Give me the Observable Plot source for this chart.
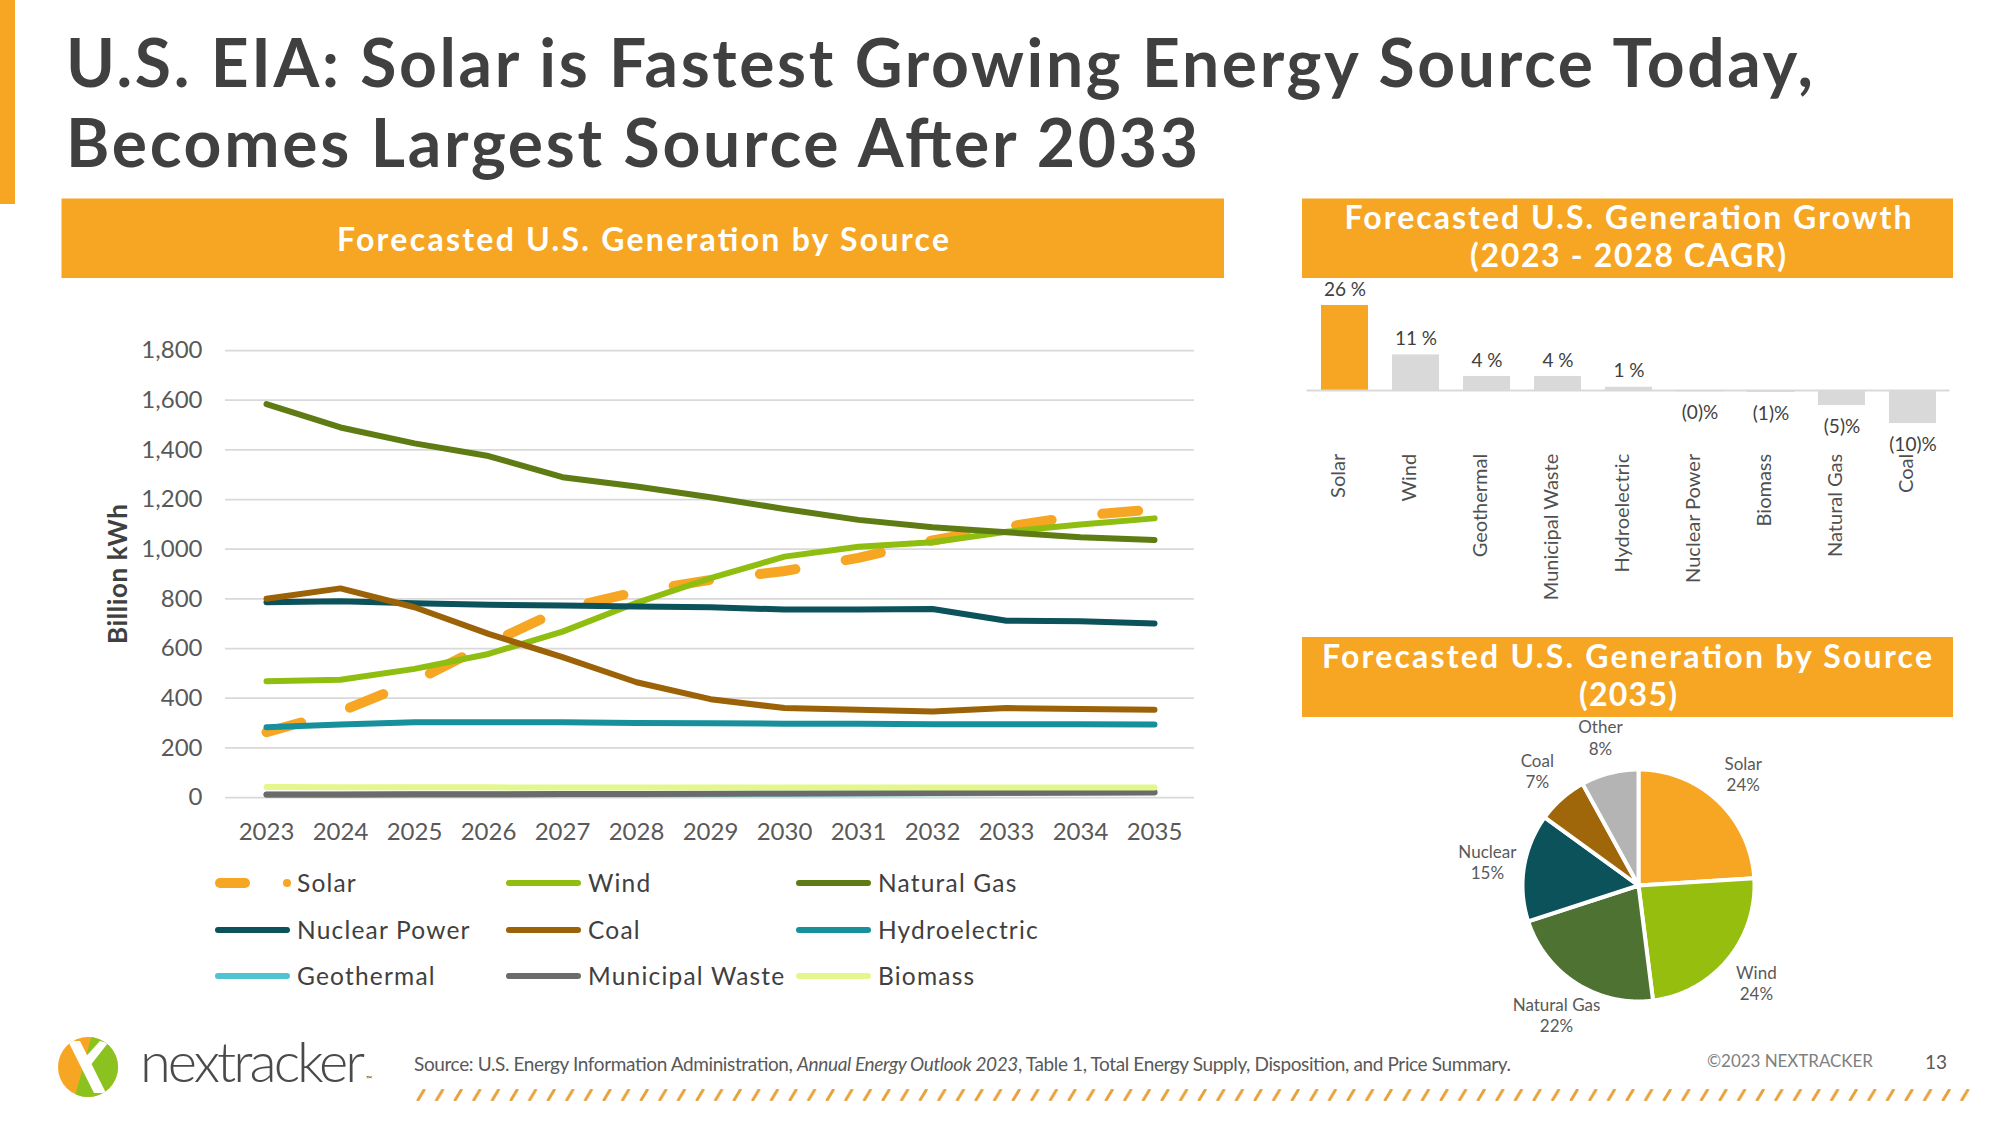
<!DOCTYPE html>
<html>
<head>
<meta charset="utf-8">
<script src="https://cdn.jsdelivr.net/npm/d3@7"></script>
<script src="https://cdn.jsdelivr.net/npm/@observablehq/plot@0.6"></script>
<style>
html, body { margin: 0; padding: 0; background: #fff; }
body { width: 2000px; height: 1125px; position: relative; overflow: hidden; font-family: Lato, "Open Sans", sans-serif; }
.abs { position: absolute; }
</style>
</head>
<body>
<svg id="bg" class="abs" style="left:0;top:0" width="2000" height="1125"></svg>
<div id="line" class="abs" style="left:60px;top:320px;width:1160px;height:540px"></div>
<div id="bars" class="abs" style="left:1300px;top:280px;width:670px;height:260px"></div>
<div id="pie" class="abs" style="left:1400px;top:700px;width:500px;height:370px"></div>
<script>
// ---------------- DATA ----------------
const years = [2023, 2024, 2025, 2026, 2027, 2028, 2029, 2030, 2031, 2032, 2033, 2034, 2035];
const solar          = [263, 346, 468, 619, 758, 828, 876, 912, 965, 1035, 1090, 1135, 1160];
const wind           = [468, 474, 518, 578, 668, 784, 883, 970, 1010, 1028, 1070, 1099, 1124];
const naturalGas     = [1584, 1490, 1426, 1375, 1290, 1252, 1209, 1162, 1118, 1088, 1068, 1048, 1037];
const nuclearPower   = [786, 790, 782, 776, 773, 769, 766, 757, 757, 759, 712, 710, 701];
const coal           = [800, 842, 766, 659, 565, 464, 396, 360, 353, 346, 360, 356, 353];
const hydroelectric  = [283, 294, 303, 303, 303, 300, 299, 297, 297, 295, 295, 295, 294];
const geothermal     = [11, 11, 12, 12, 13, 13, 14, 15, 16, 17, 18, 19, 20];
const municipalWaste = [12, 12, 13, 13, 14, 14, 15, 16, 17, 18, 19, 20, 21];
const biomass        = [42, 41, 41, 41, 40, 40, 40, 40, 40, 40, 40, 40, 40];
const yTicks = [0, 200, 400, 600, 800, 1000, 1200, 1400, 1600, 1800];

const seriesNames = ["Solar", "Wind", "Natural Gas", "Nuclear Power", "Coal", "Hydroelectric", "Geothermal", "Municipal Waste", "Biomass"];
const seriesValues = [solar, wind, naturalGas, nuclearPower, coal, hydroelectric, geothermal, municipalWaste, biomass];
const seriesColors = ["#F6A623", "#8FBE10", "#5F7B13", "#0C525B", "#9C6208", "#17909B", "#4FC3CF", "#6B6B6B", "#E3F78C"];

const cagrNames  = ["Solar", "Wind", "Geothermal", "Municipal Waste", "Hydroelectric", "Nuclear Power", "Biomass", "Natural Gas", "Coal"];
const cagrValues = [26, 10.9, 4.3, 4.3, 1.0, -0.4, -0.6, -4.6, -10.1];

const pieNames  = ["Solar", "Wind", "Natural Gas", "Nuclear", "Coal", "Other"];
const pieShares = [24, 24, 22, 15, 7, 8];
const pieColors = ["#F6A623", "#96BE0E", "#4E7232", "#0B525B", "#A0660A", "#B4B4B4"];

const orange = "#F6A623";
const textDark = "#404040";
const textGray = "#595959";

// ---------------- LINE CHART ----------------
const rows = seriesNames.flatMap((name, i) => years.map((year, j) => ({series: name, year, value: seriesValues[i][j]})));

const lineChart = Plot.plot({
  width: 1160, height: 540,
  marginLeft: 165, marginRight: 26, marginTop: 30, marginBottom: 63,
  style: {background: "none", fontFamily: "Lato, sans-serif", fontSize: "24px", color: textGray, overflow: "visible"},
  x: {type: "point", domain: years, padding: 0.5, label: null, tickSize: 0, tickPadding: 25, tickFormat: d => String(d)},
  y: {domain: [0, 1800], ticks: yTicks, tickFormat: d3.format(","), label: null, tickSize: 0, tickPadding: 23},
  color: {domain: seriesNames, range: seriesColors},
  marks: [
    Plot.ruleY(yTicks, {stroke: "#d9d9d9", strokeWidth: 1.75}),
    ...seriesNames.map(name => Plot.line(rows.filter(r => r.series === name), Object.assign(
      {x: "year", y: "value", stroke: "series", strokeLinecap: "round", strokeLinejoin: "round"},
      name === "Solar" ? {strokeWidth: 10, strokeDasharray: "36,51"} : {strokeWidth: 6}
    )))
  ]
});
document.getElementById("line").appendChild(lineChart);

// ---------------- BAR CHART ----------------
const cagr = cagrNames.map((name, i) => ({name, value: cagrValues[i]}));
const fmtPct = v => v >= 0 ? `${Math.round(v)} %` : `(${Math.round(-v)})%`;

const barChart = Plot.plot({
  width: 670, height: 260,
  marginLeft: 6.5, marginRight: 20.5, marginTop: 11.9, marginBottom: 104.2,
  style: {background: "none", fontFamily: "Lato, sans-serif", color: textDark, overflow: "visible"},
  x: {type: "band", domain: cagrNames, paddingInner: 0.342, paddingOuter: 0.174, axis: null},
  y: {domain: [-14, 30], axis: null},
  marks: [
    Plot.barY(cagr, {x: "name", y: "value", fill: d => d.name === "Solar" ? orange : "#D9D9D9"}),
    Plot.ruleY([0], {stroke: "#d9d9d9", strokeWidth: 2}),
    Plot.text(cagr.filter(d => d.value >= 0), {x: "name", y: "value", text: d => fmtPct(d.value), dy: -16, fontSize: 19, fill: textDark}),
    Plot.text(cagr.filter(d => d.value < 0), {x: "name", y: "value", text: d => fmtPct(d.value), dy: 21, fontSize: 19, fill: textDark}),
    Plot.text(cagr, {x: "name", text: "name", frameAnchor: "bottom", rotate: -90, textAnchor: "end", dy: 17.5, fontSize: 20, fill: "#505050"})
  ]
});
document.getElementById("bars").appendChild(barChart);

// ---------------- PIE CHART ----------------
const R = 116;
const arcs = d3.pie().sort(null).value(d => d)(pieShares);
const piePts = [];
arcs.forEach((a, i) => {
  const name = pieNames[i];
  piePts.push({name, x: 0, y: 0});
  const n = Math.max(8, Math.ceil((a.endAngle - a.startAngle) / 0.01));
  for (let k = 0; k <= n; k++) {
    const t = a.startAngle + (a.endAngle - a.startAngle) * k / n;
    piePts.push({name, x: R * Math.sin(t), y: R * Math.cos(t)});
  }
  piePts.push({name, x: 0, y: 0});
});
const pieLabels = arcs.map((a, i) => {
  const m = (a.startAngle + a.endAngle) / 2;
  return {name: pieNames[i], share: pieShares[i], m};
});
const LR = 153;
const pieChart = Plot.plot({
  width: 500, height: 370, margin: 0,
  style: {background: "none", fontFamily: "Lato, sans-serif", overflow: "visible"},
  x: {domain: [-238, 262], axis: null},
  y: {domain: [-185, 185], axis: null},
  color: {domain: pieNames, range: pieColors},
  marks: [
    Plot.line(piePts, {x: "x", y: "y", z: "name", fill: "name", stroke: "white", strokeWidth: 4, strokeLinejoin: "round", curve: "linear"}),
    Plot.text(pieLabels, {x: d => LR * Math.sin(d.m), y: d => LR * Math.cos(d.m), text: d => `${d.name}\n${d.share}%`, fontSize: 17, lineHeight: 1.25, fill: textGray})
  ]
});
document.getElementById("pie").appendChild(pieChart);

// ---------------- STATIC PAGE ELEMENTS ----------------
const bg = d3.select("#bg");
const F = "Lato, 'Open Sans', sans-serif";
function txt(x, y, s, o = {}) {
  const t = bg.append("text").attr("x", x).attr("y", y).text(s)
    .attr("font-family", F).attr("font-size", o.size || 20).attr("fill", o.fill || textDark)
    .attr("font-weight", o.weight || 400).attr("text-anchor", o.anchor || "start");
  if (o.len) t.attr("textLength", o.len).attr("lengthAdjust", o.adjust || "spacing");
  if (o.ls) t.attr("letter-spacing", o.ls);
  if (o.transform) t.attr("transform", o.transform);
  return t;
}

// left accent bar
bg.append("rect").attr("x", 0).attr("y", 0).attr("width", 15).attr("height", 204).attr("fill", orange);

// Title
txt(66, 87, "U.S. EIA: Solar is Fastest Growing Energy Source Today,", {size: 66, weight: 700, len: 1747});
txt(66, 167, "Becomes Largest Source After 2033", {size: 66, weight: 700, len: 1132});

// Header boxes
bg.append("rect").attr("x", 61.5).attr("y", 198.5).attr("width", 1162.5).attr("height", 79.5).attr("fill", orange);
bg.append("rect").attr("x", 1302).attr("y", 198.5).attr("width", 651).attr("height", 79.5).attr("fill", orange);
bg.append("rect").attr("x", 1302).attr("y", 637).attr("width", 651).attr("height", 80).attr("fill", orange);
txt(643, 251, "Forecasted U.S. Generation by Source", {size: 32, weight: 700, fill: "#fff", anchor: "middle", len: 612});
txt(1628, 229, "Forecasted U.S. Generation Growth", {size: 32, weight: 700, fill: "#fff", anchor: "middle", len: 567});
txt(1628, 267, "(2023 - 2028 CAGR)", {size: 32, weight: 700, fill: "#fff", anchor: "middle", len: 316});
txt(1627, 668, "Forecasted U.S. Generation by Source", {size: 32, weight: 700, fill: "#fff", anchor: "middle", len: 610});
txt(1628, 706, "(2035)", {size: 32, weight: 700, fill: "#fff", anchor: "middle", len: 98});

// y-axis title
txt(127, 574, "Billion kWh", {size: 26, weight: 700, fill: textDark, anchor: "middle", len: 140, transform: "rotate(-90 127 574)"});

// Legend
const legCols = [215, 506, 796];
const legRows = [883, 930, 976];
seriesNames.forEach((name, i) => {
  const cx = legCols[i % 3], cy = legRows[Math.floor(i / 3)];
  if (name === "Solar") {
    bg.append("line").attr("x1", cx + 5).attr("x2", cx + 30).attr("y1", cy).attr("y2", cy)
      .attr("stroke", seriesColors[i]).attr("stroke-width", 10).attr("stroke-linecap", "round");
    bg.append("circle").attr("cx", cx + 72).attr("cy", cy).attr("r", 4).attr("fill", seriesColors[i]);
  } else {
    bg.append("line").attr("x1", cx + 3).attr("x2", cx + 72).attr("y1", cy).attr("y2", cy)
      .attr("stroke", seriesColors[i]).attr("stroke-width", 6).attr("stroke-linecap", "round");
  }
  txt(cx + 82, cy + 8.5, name, {size: 24.5, fill: textDark, ls: 1.2});
});

// Footer: logo
const logo = bg.append("g").attr("transform", "translate(88,1067)");
const defs = bg.append("defs");
defs.append("clipPath").attr("id", "logoClip").append("circle").attr("r", 30);
defs.append("pattern").attr("id", "slashes").attr("patternUnits", "userSpaceOnUse")
  .attr("x", 414).attr("y", 1089).attr("width", 18.6).attr("height", 12)
  .append("line").attr("x1", 4).attr("y1", 11).attr("x2", 10).attr("y2", 1)
  .attr("stroke", "#E6A23B").attr("stroke-width", 3).attr("stroke-linecap", "round");
logo.append("circle").attr("r", 30).attr("fill", orange);
logo.append("path").attr("clip-path", "url(#logoClip)").attr("d", "M6,-40 L40,-40 L40,40 L-16,40 Z").attr("fill", "#8CC21F");
logo.append("path").attr("clip-path", "url(#logoClip)").attr("d", "M-20,-26 L-8,-26 L18,26 L6,26 Z").attr("fill", "#fff");
logo.append("path").attr("clip-path", "url(#logoClip)").attr("d", "M12,-26 L20,-24 L-2,4 L-8,-4 Z").attr("fill", "#fff");
txt(140, 1082, "nextracker", {size: 56, weight: 300, fill: "#4a4a4a", len: 225});
txt(366, 1082, "™", {size: 8, fill: "#4a4a4a"});

// Source
const src = txt(414, 1071, "", {size: 19, fill: textGray, len: 1097});
src.append("tspan").text("Source: U.S. Energy Information Administration, ");
src.append("tspan").attr("font-style", "italic").text("Annual Energy Outlook 2023");
src.append("tspan").text(", Table 1, Total Energy Supply, Disposition, and Price Summary.");

txt(1707, 1067, "©2023 NEXTRACKER", {size: 17, fill: "#7f7f7f", len: 166});
txt(1925, 1069, "13", {size: 19, fill: textGray});

// hatched divider
bg.append("rect").attr("x", 414).attr("y", 1089).attr("width", 1561).attr("height", 12).attr("fill", "url(#slashes)");
</script>
</body>
</html>
